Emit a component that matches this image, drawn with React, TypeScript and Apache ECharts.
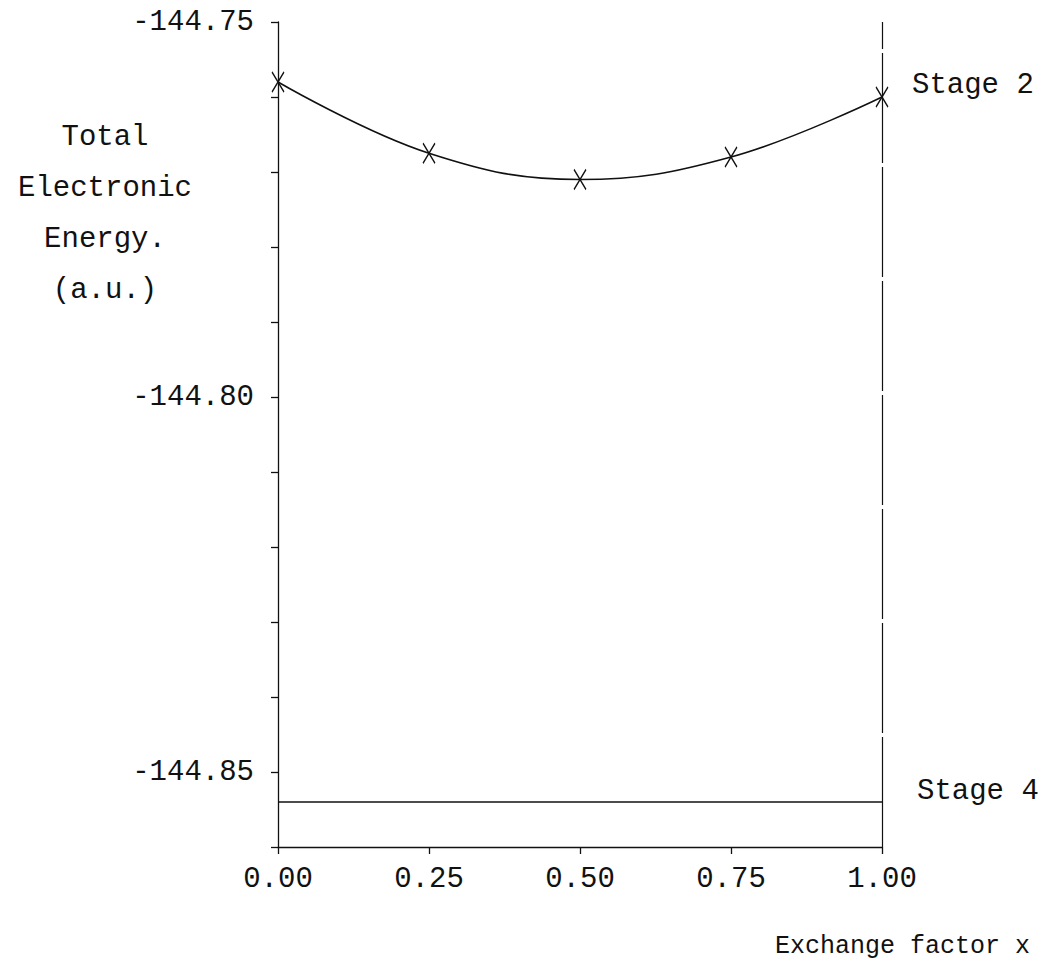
import React, { useEffect, useRef } from "react";
import * as echarts from "echarts";

const xValues = [0, 0.25, 0.5, 0.75, 1.0];
const stage2Energy = [-144.758, -144.7675, -144.771, -144.768, -144.76];
const stage4Energy = [-144.854, -144.854];
const stage4X = [0, 1];
const yTickLabels = ["-144.75", "-144.80", "-144.85"];
const xTickLabels = ["0.00", "0.25", "0.50", "0.75", "1.00"];
const yAxisTitle = ["Total", "Electronic", "Energy.", "(a.u.)"];
const xAxisTitle = "Exchange factor x";
const seriesNames = ["Stage 2", "Stage 4"];

const FONT = "'Liberation Mono', 'DejaVu Sans Mono', monospace";
const INK = "#111";

export default function App() {
  const ref = useRef<HTMLDivElement>(null);
  useEffect(() => {
    if (!ref.current) return;
    const chart = echarts.init(ref.current, null, { renderer: "svg" });
    const xSymbol = "path://M0,0L12,20M12,0L0,20";
    chart.setOption({
      animation: false,
      backgroundColor: "#fff",
      grid: { left: 278, right: 167, top: 22, bottom: 117, containLabel: false },
      xAxis: {
        type: "value",
        min: 0,
        max: 1,
        interval: 0.25,
        splitLine: { show: false },
        axisLine: { lineStyle: { color: INK, width: 1.3 } },
        axisTick: { length: 7, lineStyle: { color: INK, width: 1.3 } },
        axisLabel: {
          margin: 18,
          color: INK,
          fontFamily: FONT,
          fontSize: 29,
          formatter: (v: number) => {
            const s = v.toFixed(2);
            return xTickLabels.includes(s) ? s : "";
          },
        },
      },
      yAxis: {
        type: "value",
        min: -144.86,
        max: -144.75,
        interval: 0.01,
        splitLine: { show: false },
        axisLine: { onZero: false, lineStyle: { color: INK, width: 1.3 } },
        axisTick: { length: 7, lineStyle: { color: INK, width: 1.3 } },
        axisLabel: {
          margin: 24,
          color: INK,
          fontFamily: FONT,
          fontSize: 29,
          showMinLabel: true,
          showMaxLabel: true,
          formatter: (v: number) => {
            const s = v.toFixed(2);
            return yTickLabels.includes(s) ? s : "";
          },
        },
      },
      series: [
        {
          name: seriesNames[0],
          type: "line",
          smooth: 0.4,
          data: xValues.map((x, i) => [x, stage2Energy[i]]),
          symbol: xSymbol,
          symbolSize: [12, 20],
          itemStyle: { color: "none", borderColor: INK, borderWidth: 1.4 },
          lineStyle: { color: INK, width: 1.6 },
          endLabel: {
            show: true,
            formatter: seriesNames[0],
            color: INK,
            fontFamily: FONT,
            fontSize: 29,
            distance: 30,
            offset: [0, -12],
          },
          markLine: {
            symbol: "none",
            silent: true,
            label: { show: false },
            lineStyle: { color: INK, width: 1.2, type: [110, 4] },
            data: [{ xAxis: 1 }],
          },
        },
        {
          name: seriesNames[1],
          type: "line",
          data: stage4X.map((x, i) => [x, stage4Energy[i]]),
          symbol: "none",
          lineStyle: { color: INK, width: 1.6 },
          endLabel: {
            show: true,
            formatter: seriesNames[1],
            color: INK,
            fontFamily: FONT,
            fontSize: 29,
            distance: 35,
            offset: [0, -11],
          },
        },
      ],
      graphic: [
        {
          type: "text",
          x: 105,
          y: 112,
          style: {
            text: yAxisTitle.join("\n"),
            fill: INK,
            fontFamily: FONT,
            fontSize: 29,
            lineHeight: 51,
            align: "center",
            verticalAlign: "top",
          },
        },
        {
          type: "text",
          left: 775,
          top: 934,
          style: {
            text: xAxisTitle,
            fill: INK,
            fontFamily: FONT,
            fontSize: 25,
          },
        },
      ],
    });
    return () => chart.dispose();
  }, []);
  return (
    <div
      ref={ref}
      style={{ position: "fixed", left: 0, top: 0, width: 1049, height: 964, background: "#fff" }}
    />
  );
}
